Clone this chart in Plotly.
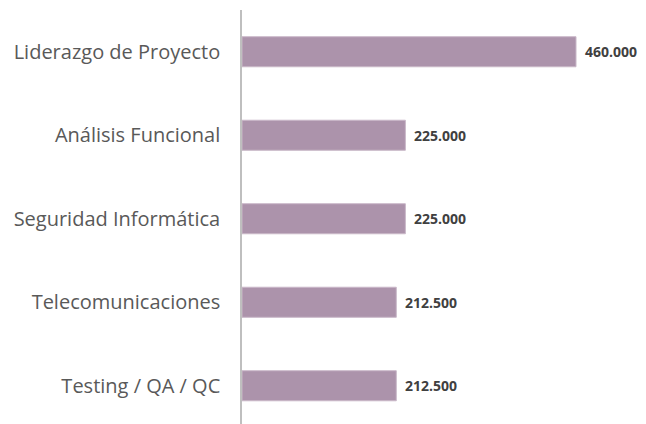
import plotly.graph_objects as go

categories = ["Testing / QA / QC", "Telecomunicaciones", "Seguridad Informática",
              "Análisis Funcional", "Liderazgo de Proyecto"]
values = [212500, 212500, 225000, 225000, 460000]

fig = go.Figure(go.Bar(
    x=values, y=categories, orientation="h",
    marker=dict(color="#AC93AB", line=dict(color="#C9B8C8", width=1)),
    width=0.36, hoverinfo="skip",
))

for c, v in zip(categories, values):
    fig.add_annotation(x=v, y=c, text=f"{v:,.0f}".replace(",", "."),
                       xanchor="left", xshift=7, showarrow=False,
                       font=dict(family="Open Sans", size=14, color="#404040", weight="bold"))

fig.update_layout(
    width=638, height=416,
    margin=dict(l=234, r=20, t=2, b=0),
    paper_bgcolor="white", plot_bgcolor="white",
    showlegend=False,
    xaxis=dict(range=[0, 528862], visible=False),
    yaxis=dict(range=[-0.458, 4.5], showline=True, linecolor="#BFBFBF", linewidth=1.5,
               showgrid=False, zeroline=False, ticks="", ticklabelstandoff=16,
               tickfont=dict(family="Open Sans", size=20, color="#595959")),
)
fig.write_html("out.html")
